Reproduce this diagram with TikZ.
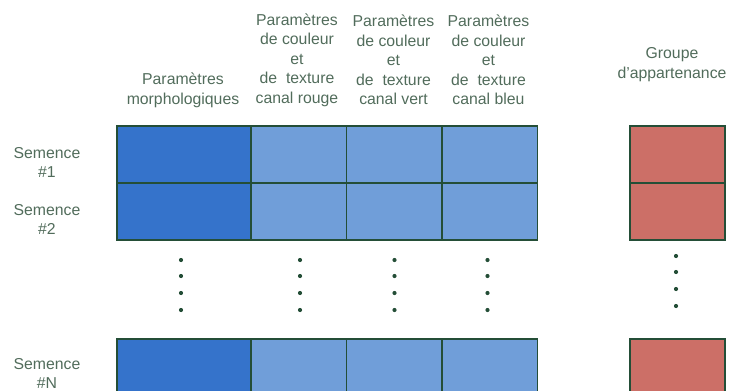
\documentclass[tikz,border=0pt]{standalone}
\usepackage{fontspec}
\setmainfont{Liberation Sans}
\usepackage{xcolor}
\usepackage{tikz}
\usetikzlibrary{positioning}

\definecolor{bord}{HTML}{244E37}
\definecolor{txt}{HTML}{516C5B}
\definecolor{bleuf}{HTML}{3573CB}
\definecolor{bleuc}{HTML}{709ED9}
\definecolor{rouge}{HTML}{CC6F67}

\begin{document}
\begin{tikzpicture}[x=1pt, y=-1pt,
  font=\fontsize{15.8}{19.5}\selectfont,
  lab/.style={text=txt, align=center, inner sep=0pt},
  cell/.style={draw=bord, line width=1.8pt, anchor=north west, inner sep=0pt, minimum height=57pt},
  morph/.style={cell, fill=bleuf, minimum width=134pt},
  coul/.style={cell, fill=bleuc, minimum width=95.5pt},
  grp/.style={cell, fill=rouge, minimum width=95pt},
  pt/.style={circle, fill=bord, inner sep=0pt, minimum size=4.2pt}]
\useasboundingbox (0,0) rectangle (729,391);
\begin{scope}
\clip (0,0) rectangle (729,391);
% column headers
\node[lab] (hm) at (183,90.5) {Paramètres\\morphologiques};
\node[lab] (hr) at (297,60) {Paramètres\\de couleur\\et\\de~~texture\\canal rouge};
\node[lab] (hv) at (393.5,60) {Paramètres\\de couleur\\et\\de~~texture\\canal vert};
\node[lab] (hb) at (488.5,60) {Paramètres\\de couleur\\et\\de~~texture\\canal bleu};
\node[lab] (hg) at (672,64.5) {Groupe\\d’appartenance};
% row labels
\node[lab] (s1) at (47,162.5) {Semence\\\#1};
\node[lab] (s2) at (47,219.5) {Semence\\\#2};
\node[lab] (sN) at (47,373.5) {Semence\\\#N};
% row 1
\node[morph] (m1) at (116,125) {};
\node[coul] (r1) at (250,125) {};
\node[coul] (v1) at (345.5,125) {};
\node[coul] (b1) at (441,125) {};
\node[grp] (g1) at (629,125) {};
% row 2
\node[morph] (m2) at (116,182) {};
\node[coul] (r2) at (250,182) {};
\node[coul] (v2) at (345.5,182) {};
\node[coul] (b2) at (441,182) {};
\node[grp] (g2) at (629,182) {};
% row N
\node[morph] (mN) at (116,338) {};
\node[coul] (rN) at (250,338) {};
\node[coul] (vN) at (345.5,338) {};
\node[coul] (bN) at (441,338) {};
\node[grp] (gN) at (629,338) {};
% vertical dots
\foreach \c/\x in {m/181,r/300,v/394.5,b/487.5}
  \foreach \k/\y in {1/260,2/276,3/293,4/310}
    \node[pt] (d\c\k) at (\x,\y) {};
\foreach \k/\y in {1/256,2/272,3/289,4/306}
  \node[pt] (dg\k) at (676,\y) {};
\end{scope}
\end{tikzpicture}
\end{document}
